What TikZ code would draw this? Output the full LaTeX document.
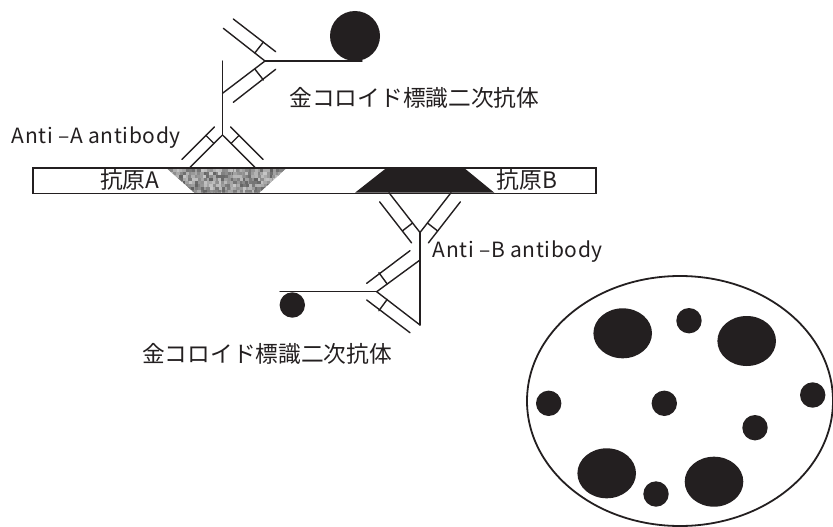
\documentclass[tikz,border=0pt]{standalone}
\usepackage{fontspec}
\newfontfamily\jpfont{Noto Sans CJK JP}
\newfontfamily\latfont[LetterSpace=3]{Noto Sans CJK JP}
\definecolor{ink}{RGB}{35,31,32}
\begin{document}
\begin{tikzpicture}[x=1pt,y=-1pt,
  ab/.style={line width=1.4pt,line cap=round,draw=ink},
  lbl/.style={inner sep=0pt,text=ink,font=\latfont\fontsize{21}{24}\selectfont},
  jlbl/.style={inner sep=0pt,text=ink,font=\jpfont\fontsize{22.7}{26}\selectfont},
  dot/.style={fill=ink}]
\useasboundingbox (0,0) rectangle (833,527);

% --- antigen A: mottled grey trapezoid ---
\begin{scope}
  \clip (165.7,167.3) -- (287.3,167.3) -- (259.3,192.7) -- (194.3,192.7) -- cycle;
  \fill[black!40] (160,160) rectangle (295,200);
  \pgfmathsetseed{11}
  \foreach \i in {0,...,41} {
    \foreach \j in {0,...,9} {
      \pgfmathsetmacro\g{22+40*rnd}
      \pgfmathsetmacro\dx{1.5*rnd}
      \fill[black!\g] (164+\i*3+\dx,166+\j*3) rectangle ++(3.4,3.2);
    }
  }
\end{scope}

% --- antigen B: black trapezoid ---
\fill[ink] (387.3,167.3) -- (463.3,167.3) -- (494.3,192.7) -- (355,192.7) -- cycle;

% --- membrane strip ---
\node[draw=ink,line width=1.6pt,minimum width=562.7pt,minimum height=25.4pt,anchor=north west,inner sep=0pt]
  (strip) at (32.3,167.3) {};

\node[jlbl,anchor=west] (agA) at (100,180) {抗原A};
\node[jlbl,anchor=west] (agB) at (496.7,180) {抗原B};

% --- primary antibody A (bound to antigen A) ---
\coordinate (vA) at (222.5,135);
\draw[ab] (222.5,61) -- (vA);
\draw[ab] (vA) -- (190,167.3);
\draw[ab] (vA) -- (255,167.3);
\draw[ab] (214.4,126.9) -- (181.9,159.4);
\draw[ab] (230.6,126.9) -- (263.1,159.4);
\draw[ab] (214,143.5) -- (205.9,135.4);
\draw[ab] (231,143.5) -- (239.1,135.4);

% --- gold-labelled secondary antibody (upper) ---
\coordinate (vS1) at (265,61);
\node[dot,circle,minimum size=50pt,inner sep=0pt] (gold1) at (355,36) {};
\draw[ab] (vS1) -- (362,61);
\draw[ab] (vS1) -- (223.3,28.3);
\draw[ab] (vS1) -- (222.5,93.3);
\draw[ab] (275.7,51.7) -- (233.3,19);
\draw[ab] (275.7,69.3) -- (233.3,102.3);
\draw[ab] (254.8,53) -- (263.4,42);
\draw[ab] (254.8,69) -- (263.4,80);

% --- primary antibody B (bound to antigen B) ---
\coordinate (vB) at (420,232.5);
\draw[ab] (vB) -- (420,325);
\draw[ab] (vB) -- (389,192.7);
\draw[ab] (vB) -- (451,192.7);
\draw[ab] (411.6,242.9) -- (379.6,201.8);
\draw[ab] (428.4,242.9) -- (460.4,201.8);
\draw[ab] (412.6,223) -- (402.3,231);
\draw[ab] (427.4,223) -- (437.7,231);

% --- gold-labelled secondary antibody (lower) ---
\coordinate (vS2) at (376.7,291.7);
\node[dot,circle,minimum size=25.4pt,inner sep=0pt] (gold2) at (292.3,305) {};
\draw[ab] (280,291.7) -- (vS2);
\draw[ab] (vS2) -- (420,260);
\draw[ab] (vS2) -- (420,325);
\draw[ab] (366.7,283.3) -- (410,250.7);
\draw[ab] (366.7,300) -- (410,332.7);
\draw[ab] (387.2,284) -- (378.9,272.7);
\draw[ab] (387.2,299.4) -- (378.9,310.7);

% --- labels ---
\node[lbl,anchor=base west] (labA) at (11.7,143.3) {Anti –A antibody};
\node[lbl,anchor=base west] (labB) at (432.7,257.3) {Anti –B antibody};
\node[jlbl,anchor=west] (sec1) at (289.3,98) {金コロイド標識二次抗体};
\node[jlbl,anchor=west] (sec2) at (142,354) {金コロイド標識二次抗体};

% --- field of view with gold particles ---
\draw[ink,line width=1.8pt] (680,401) ellipse [x radius=153,y radius=125];
\fill[dot] (622.7,333.3) ellipse [x radius=29.3,y radius=25];
\fill[dot] (746.7,341) ellipse [x radius=29.3,y radius=25];
\fill[dot] (606.7,473.3) ellipse [x radius=29.3,y radius=25];
\fill[dot] (714,481.7) ellipse [x radius=29.3,y radius=25];
\fill[dot] (689,320.7) circle [radius=12.7];
\fill[dot] (548.7,403.3) circle [radius=12.7];
\fill[dot] (664.3,403.3) circle [radius=12.7];
\fill[dot] (812.7,395) circle [radius=12.7];
\fill[dot] (755,427.7) circle [radius=12.7];
\fill[dot] (656,494) circle [radius=12.7];
\end{tikzpicture}
\end{document}
